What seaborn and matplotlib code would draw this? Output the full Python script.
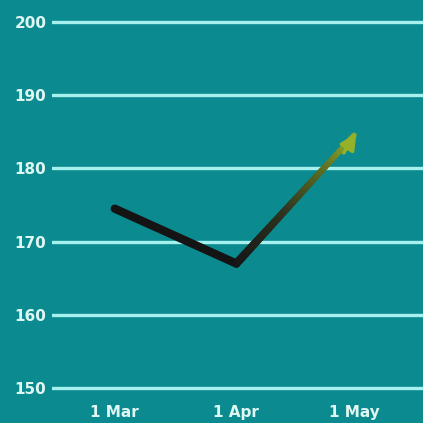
import numpy as np
import matplotlib
matplotlib.use("Agg")
import matplotlib.pyplot as plt
from matplotlib.collections import LineCollection
from matplotlib.colors import LinearSegmentedColormap
import pandas as pd
import seaborn as sns

# Days counted from 1 March
days = [0, 31, 61]
values = [174.5, 167.0, 184.5]
x_ticks = [0, 31, 61]
x_labels = ["1 Mar", "1 Apr", "1 May"]
y_ticks = [150, 160, 170, 180, 190, 200]

bg = "#0b8b90"
grid_col = "#a6f0ee"
text_col = "#dff7f2"

sns.set_theme(style="white")
plt.rcParams["font.family"] = ["DejaVu Sans"]

fig = plt.figure(figsize=(4.23, 4.23), dpi=100, facecolor=bg)
ax = fig.add_axes([52 / 423, 1 - 395 / 423, (423 - 52) / 423, 380 / 423])
ax.set_facecolor(bg)

df = pd.DataFrame({"day": days, "value": values})

# First leg in near-black through seaborn
sns.lineplot(data=df.iloc[:2], x="day", y="value", ax=ax, color="#141414",
             linewidth=6.0, solid_capstyle="round", zorder=3)

# Second leg fades from black into a yellow-green arrow head
cmap = LinearSegmentedColormap.from_list(
    "rise", [(0, "#161616"), (0.4, "#2e3320"), (0.75, "#5d7024"), (1, "#93b22a")])
n = 40
t = np.linspace(0, 1, n + 1)
xs = days[1] + (days[2] - days[1]) * t
ys = values[1] + (values[2] - values[1]) * t
pts = np.column_stack([xs, ys]).reshape(-1, 1, 2)
segs = np.concatenate([pts[:-1], pts[1:]], axis=1)
lc = LineCollection(segs, colors=cmap(t[:-1]), linewidths=np.linspace(6.0, 4.0, n),
                    capstyle="round", zorder=3)
ax.add_collection(lc)
ax.annotate("", xy=(days[2] + 1.0, values[2] + 0.6), xytext=(days[2] - 3, values[2] - 2.7),
            arrowprops=dict(arrowstyle="-|>,head_length=0.8,head_width=0.4",
                            color="#93b22a", lw=2.5), zorder=4)

ax.set_xlim(-16, 78.6)
ax.set_ylim(149.04, 200.96)
ax.set_xticks(x_ticks)
ax.set_xticklabels(x_labels)
ax.set_yticks(y_ticks)
ax.set_yticklabels([str(v) for v in y_ticks])
ax.set_xlabel("")
ax.set_ylabel("")

for y in y_ticks:
    ax.axhline(y, color=grid_col, linewidth=2.4, zorder=1)

for s in ax.spines.values():
    s.set_visible(False)
ax.tick_params(axis="both", length=0, colors=text_col)
for lab in ax.get_xticklabels() + ax.get_yticklabels():
    lab.set_fontsize(11)
    lab.set_fontweight("bold")
    lab.set_color(text_col)
ax.tick_params(axis="y", pad=4)
ax.tick_params(axis="x", pad=7)

fig.savefig("out.png", dpi=100, facecolor=bg)
